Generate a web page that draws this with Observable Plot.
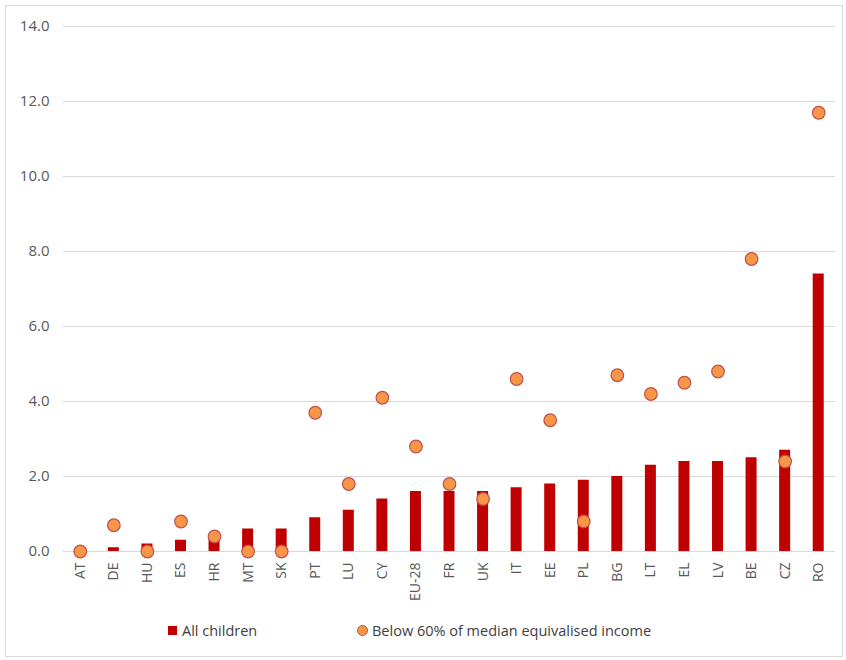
<!DOCTYPE html>
<html>
<head>
<meta charset="utf-8">
<script src="https://cdn.jsdelivr.net/npm/d3@7"></script>
<script src="https://cdn.jsdelivr.net/npm/@observablehq/plot@0.6"></script>
<style>
  html, body { margin: 0; padding: 0; background: #fff; }
  #frame { position: absolute; left: 5px; top: 5px; width: 836px; height: 650px; border: 1px solid #d9d9d9; }
  #chart { position: absolute; left: 0px; top: 0px; }
  #legend { position: absolute; left: 0; top: 612px; width: 846px; height: 40px; font-family: "Open Sans", sans-serif; font-size: 14.5px; color: #404040; }
  .item { position: absolute; top: 9px; display: flex; align-items: center; white-space: nowrap; }
  .sq { width: 9px; height: 9px; background: #C00000; margin-right: 5px; }
  .ci { width: 9px; height: 9px; border-radius: 50%; background: #F79646; border: 1px solid #C0504D; margin-right: 4px; }
</style>
</head>
<body>
<div id="frame"></div>
<div id="chart"></div>
<div id="legend">
  <div class="item" style="left:168px"><div class="sq"></div><span>All children</span></div>
  <div class="item" style="left:357px"><div class="ci"></div><span>Below 60% of median equivalised income</span></div>
</div>
<script>
const countries = ["AT","DE","HU","ES","HR","MT","SK","PT","LU","CY","EU-28","FR","UK","IT","EE","PL","BG","LT","EL","LV","BE","CZ","RO"];
const allChildren = [0, 0.1, 0.2, 0.3, 0.4, 0.6, 0.6, 0.9, 1.1, 1.4, 1.6, 1.6, 1.6, 1.7, 1.8, 1.9, 2.0, 2.3, 2.4, 2.4, 2.5, 2.7, 7.4];
const below60 = [0, 0.7, 0, 0.8, 0.4, 0, 0, 3.7, 1.8, 4.1, 2.8, 1.8, 1.4, 4.6, 3.5, 0.8, 4.7, 4.2, 4.5, 4.8, 7.8, 2.4, 11.7];
const yTicks = [0, 2, 4, 6, 8, 10, 12, 14];

const data = countries.map((c, i) => ({country: c, all: allChildren[i], below: below60[i]}));

const bandW = (835 - 63) / countries.length;
const inset = (bandW - 11) / 2;

const chart = Plot.plot({
  width: 846,
  height: 612,
  marginLeft: 63,
  marginRight: 11,
  marginTop: 26,
  marginBottom: 61,
  style: {fontFamily: "'Open Sans', sans-serif", fontSize: "15px", color: "#595959", background: "transparent"},
  x: {type: "band", domain: countries, paddingInner: 0, paddingOuter: 0, round: false, range: [63, 835], label: null},
  y: {domain: [0, 14], label: null},
  marks: [
    Plot.gridY(yTicks, {stroke: "#d9d9d9", strokeOpacity: 1, strokeWidth: 1}),
    Plot.axisY(yTicks, {tickFormat: d => d.toFixed(1), tickSize: 0, tickPadding: 14, fill: "#595959", label: null}),
    Plot.axisX({tickRotate: -90, tickSize: 0, tickPadding: 11, fill: "#595959", label: null}),
    Plot.barY(data, {x: "country", y: "all", fill: "#C00000", insetLeft: inset, insetRight: inset}),
    Plot.dot(data, {x: "country", y: "below", r: 6.3, fill: "#F79646", stroke: "#C0504D", strokeWidth: 1.2})
  ]
});
document.getElementById("chart").appendChild(chart);
d3.select(chart).selectAll("g[aria-label='y-axis tick label']").style("font-size", "15px").selectAll("text").style("font-size", "15px");
d3.select(chart).selectAll("g[aria-label='x-axis tick label']").style("font-size", "14px").selectAll("text").style("font-size", "14px");
</script>
</body>
</html>
